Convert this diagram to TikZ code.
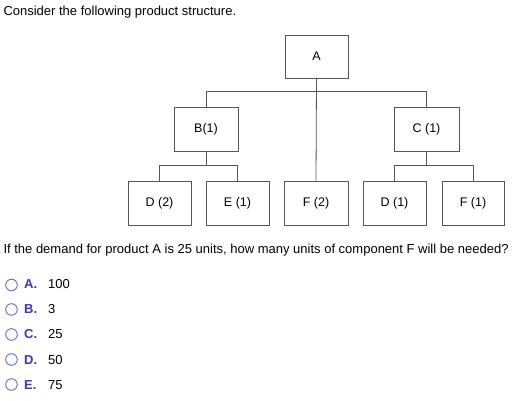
\documentclass[tikz,border=0pt]{standalone}
\usepackage{fontspec}
\setmainfont{Liberation Sans}
\definecolor{boxline}{RGB}{85,85,85}
\definecolor{optcircle}{RGB}{95,105,230}
\definecolor{optletter}{RGB}{55,55,195}
\begin{document}
\begin{tikzpicture}[x=1pt,y=-1pt,
  part/.style={draw=boxline, line width=0.8pt, minimum width=63pt, minimum height=43pt, inner sep=0pt, font=\fontsize{12.5}{15}\selectfont},
  conn/.style={draw=boxline, line width=0.8pt},
  txt/.style={anchor=base west, inner sep=0pt, font=\fontsize{13}{15}\selectfont},
  radio/.style={draw=optcircle, line width=0.9pt, circle, minimum size=11.6pt, inner sep=0pt},
  optl/.style={anchor=base west, inner sep=0pt, text=optletter, font=\fontsize{13}{15}\selectfont\bfseries},
  optv/.style={anchor=base west, inner sep=0pt, font=\fontsize{13}{15}\selectfont}]
\useasboundingbox (0,0) rectangle (523,401);
\node[txt] (t1) at (3.3,15.7) {Consider the following product structure.};
% product structure
\node[part] (A) at (316.5,56.5) {A};
\node[part, minimum width=64pt, minimum height=44pt] (B) at (206,129) {B(1)};
\node[part, minimum width=65pt, minimum height=44pt] (C) at (426.5,129) {C (1)};
\node[part, minimum height=44pt] (D2) at (159.5,203) {D (2)};
\node[part, minimum height=44pt] (E1) at (237.5,203) {E (1)};
\node[part, minimum width=64pt, minimum height=44pt] (F2) at (316,203) {F (2)};
\node[part, minimum height=44pt] (D1) at (394.5,203) {D (1)};
\node[part, minimum width=62pt, minimum height=44pt] (F1) at (473,203) {F (1)};
\draw[conn] (A.south) -- (F2.north);
\draw[conn] (B.north) -- ++(0,-15) -| (C.north);
\draw[conn] (B.south) -- ++(0,15);
\draw[conn] (D2.north) -- ++(0,-15) -| (E1.north);
\draw[conn] (C.south) -- ++(0,15);
\draw[conn] (D1.north) -- ++(0,-15) -| (F1.north);
\node[txt] (q) at (3.3,254) {If the demand for product A is 25 units, how many units of component F will be needed?};
% options
\node[radio] (rA) at (11.5,285) {};
\node[optl] (lA) at (24,289) {A.};
\node[optv] (vA) at (48,289) {100};
\node[radio] (rB) at (11.5,309.5) {};
\node[optl] (lB) at (24,314) {B.};
\node[optv] (vB) at (48,314) {3};
\node[radio] (rC) at (11.5,334.5) {};
\node[optl] (lC) at (24,339) {C.};
\node[optv] (vC) at (48,339) {25};
\node[radio] (rD) at (11.5,359.5) {};
\node[optl] (lD) at (24,364) {D.};
\node[optv] (vD) at (48,364) {50};
\node[radio] (rE) at (11.5,384.5) {};
\node[optl] (lE) at (24,389) {E.};
\node[optv] (vE) at (48,389) {75};
\end{tikzpicture}
\end{document}
